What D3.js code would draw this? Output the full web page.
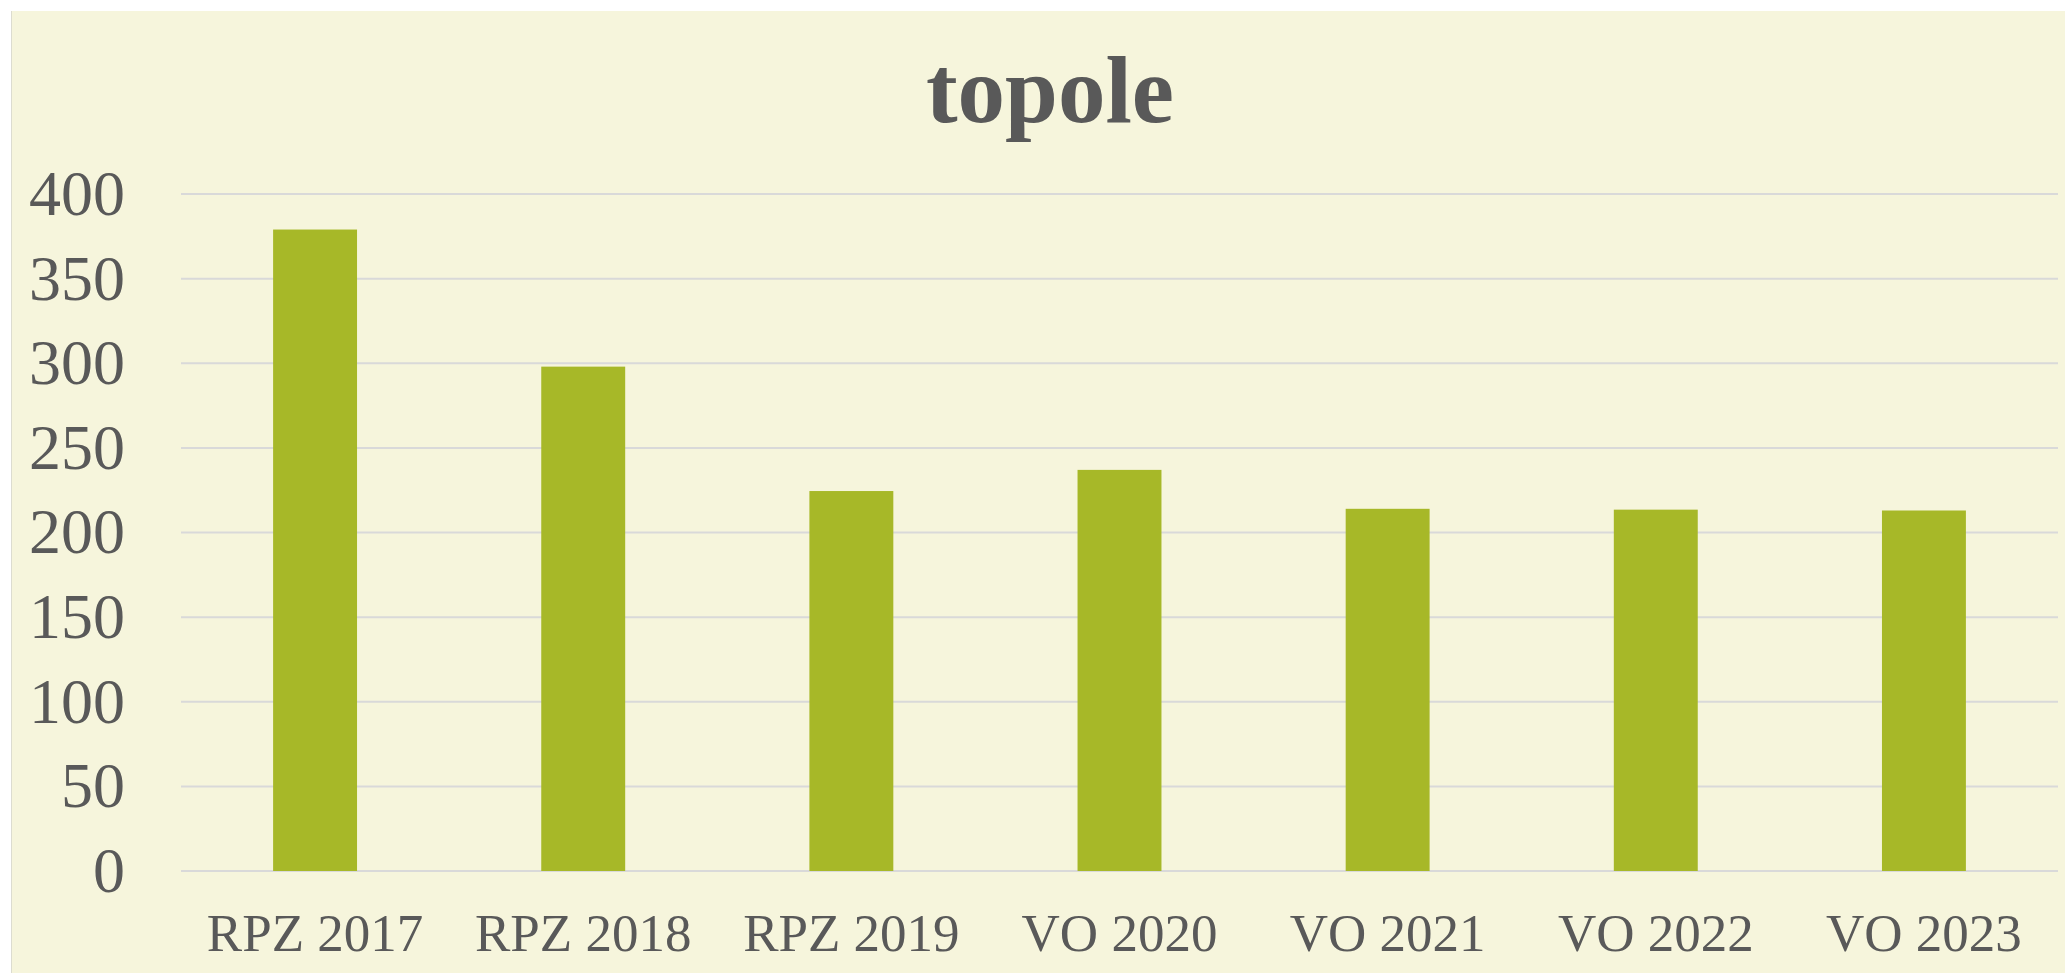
<!DOCTYPE html>
<html>
<head>
<meta charset="utf-8">
<script src="https://cdn.jsdelivr.net/npm/d3@7"></script>
<style>
  html, body { margin: 0; padding: 0; background: #ffffff; }
  svg { display: block; }
</style>
</head>
<body>
<div id="chart"></div>
<script>
// data
const categories = ["RPZ 2017", "RPZ 2018", "RPZ 2019", "VO 2020", "VO 2021", "VO 2022", "VO 2023"];
const values = [379, 298, 224.5, 237, 214, 213.5, 213];
const yTicks = [0, 50, 100, 150, 200, 250, 300, 350, 400];
const title = "topole";

const W = 2065, H = 973;
const margin = { top: 194, right: 7, bottom: 102, left: 181 };

const svg = d3.select("#chart")
    .append("svg")
    .attr("width", W)
    .attr("height", H);

// chart area background
svg.append("rect")
    .attr("x", 11)
    .attr("y", 11)
    .attr("width", W - 11)
    .attr("height", H - 11)
    .attr("fill", "#f6f5dc");

svg.append("line")
    .attr("x1", 11.5).attr("x2", 11.5)
    .attr("y1", 11).attr("y2", H)
    .attr("stroke", "#dcdcd0")
    .attr("stroke-width", 1);

// scales
const x = d3.scaleBand()
    .domain(categories)
    .range([margin.left, W - margin.right])
    .paddingInner(0.687)
    .paddingOuter(0.687 / 2);

const y = d3.scaleLinear()
    .domain([0, 400])
    .range([H - margin.bottom, margin.top]);

// gridlines
svg.append("g")
    .selectAll("line")
    .data(yTicks)
    .enter()
    .append("line")
    .attr("x1", margin.left)
    .attr("x2", W - margin.right)
    .attr("y1", d => y(d))
    .attr("y2", d => y(d))
    .attr("stroke", "#d9d9d9")
    .attr("stroke-width", 2);

// y axis labels
const yAxis = svg.append("g")
    .attr("transform", `translate(${margin.left - 56},0)`)
    .call(d3.axisLeft(y).tickValues(yTicks).tickSize(0).tickPadding(0));
yAxis.select(".domain").remove();
yAxis.selectAll("text")
    .attr("font-family", "'Liberation Serif', 'Times New Roman', serif")
    .attr("font-size", 64)
    .attr("fill", "#595959");

// bars
svg.append("g")
    .selectAll("rect")
    .data(values)
    .enter()
    .append("rect")
    .attr("x", (d, i) => x(categories[i]))
    .attr("y", d => y(d))
    .attr("width", x.bandwidth())
    .attr("height", d => y(0) - y(d))
    .attr("fill", "#a7b828");

// x axis labels
const xAxis = svg.append("g")
    .attr("transform", `translate(0,${y(0)})`)
    .call(d3.axisBottom(x).tickSize(0).tickPadding(0));
xAxis.select(".domain").remove();
xAxis.selectAll("text")
    .attr("dy", null)
    .attr("y", 80)
    .attr("font-family", "'Liberation Serif', 'Times New Roman', serif")
    .attr("font-size", 53)
    .attr("fill", "#595959");

// title
svg.append("text")
    .attr("x", 1050)
    .attr("y", 122)
    .attr("text-anchor", "middle")
    .attr("font-family", "'Liberation Serif', 'Times New Roman', serif")
    .attr("font-weight", "bold")
    .attr("font-size", 95)
    .attr("fill", "#595959")
    .text(title);
</script>
</body>
</html>
